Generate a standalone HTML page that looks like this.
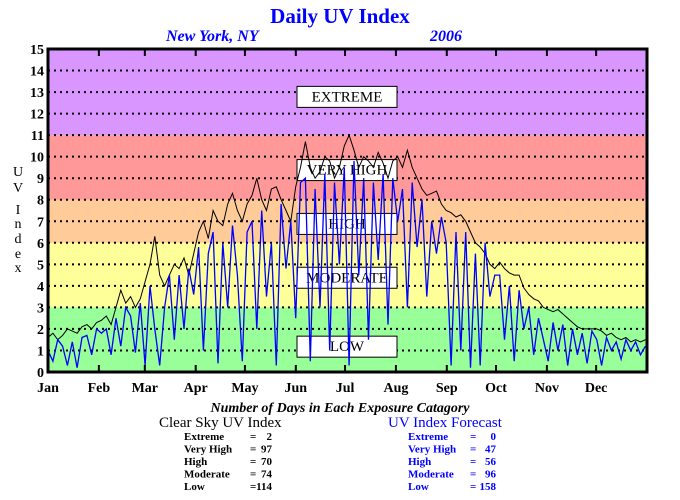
<!DOCTYPE html>
<html><head><meta charset="utf-8"><style>
body{margin:0;background:#fff}
svg{display:block;font-family:"Liberation Serif",serif}
.t{font-weight:bold;font-size:14px}
.r{font-weight:bold;font-size:11px}
</style></head><body>
<svg id="c" width="680" height="500" xmlns="http://www.w3.org/2000/svg">
<text x="340" y="23" text-anchor="middle" font-size="21" font-weight="bold" fill="#0000ff">Daily UV Index</text>
<text x="166" y="41" font-size="16" font-weight="bold" font-style="italic" fill="#0000ff">New York, NY</text>
<text x="430" y="41" font-size="16" font-weight="bold" font-style="italic" fill="#0000ff">2006</text>
<g id="bands"></g><g id="grid"></g><g id="boxes"></g><g id="series"></g><g id="axes"></g>
<g font-size="14" text-anchor="middle">
<text x="18" y="176">U</text><text x="18" y="192">V</text><text x="18" y="214">I</text><text x="18" y="228">n</text><text x="18" y="243">d</text><text x="18" y="258">e</text><text x="18" y="272">x</text></g>
<text x="340" y="412" text-anchor="middle" font-size="14" font-weight="bold" font-style="italic">Number of Days in Each Exposure Catagory</text>
<text x="159" y="427" font-size="15">Clear Sky UV Index</text>
<text x="388" y="427" font-size="15" fill="#0000ff">UV Index Forecast</text>
<g id="counts"></g>
</svg>
<script>
const categories=["Extreme","Very High","High","Moderate","Low"];
const clearSkyCounts=[2,97,70,74,114];
const forecastCounts=[0,47,56,96,158];
const months=["Jan","Feb","Mar","Apr","May","Jun","Jul","Aug","Sep","Oct","Nov","Dec"];
const monthStart=[0,31,59,90,120,151,181,212,243,273,304,334];
const yTicks=[0,1,2,3,4,5,6,7,8,9,10,11,12,13,14,15];
const bandLimits=[0,3,6,8,11,15];
const bandColors=["#99ff99","#ffff99","#ffcc99","#ff9999","#d996ff"];
const bandLabels=["LOW","MODERATE","HIGH","VERY HIGH","EXTREME"];
const bandLabelValues=[1.2,4.4,6.9,9.4,12.8];
const clearSky=[1.6,1.8,1.5,1.7,2.0,1.9,1.8,2.1,2.2,2.0,2.3,
2.4,2.6,2.2,3.0,3.8,3.2,3.5,3.0,3.4,
4.2,5.0,6.3,4.5,4.0,4.5,5.0,4.8,5.3,4.5,5.5,
6.5,7.0,6.2,7.5,7.0,6.8,7.8,8.3,7.5,7.0,
7.8,8.2,9.0,8.0,7.5,8.5,8.6,8.0,7.5,7.0,8.6,
9.5,10.7,9.5,9.0,9.3,10.0,9.8,9.0,9.5,10.5,
11.0,10.3,9.5,10.0,9.8,9.5,10.2,9.7,9.0,9.8,10.0,
9.5,10.3,9.5,9.0,8.5,8.2,8.3,8.4,7.8,7.5,
7.4,7.2,7.3,7.0,6.5,6.0,5.8,5.5,5.0,4.8,
5.1,4.8,4.6,4.5,4.5,3.9,3.6,3.4,3.3,3.0,
2.9,2.8,2.9,2.7,2.5,2.3,2.1,2.0,2.0,2.0,
2.0,1.9,1.7,1.8,1.6,1.5,1.6,1.4,1.5,1.4,1.5];
const forecast=[1.0,0.5,1.5,1.2,0.3,1.4,0.2,1.6,1.7,0.8,2.0,
1.8,2.0,0.8,2.5,1.2,3.0,2.6,0.9,3.2,
0.3,4.0,2.0,0.3,3.0,4.5,1.5,4.5,2.0,4.8,3.6,
5.8,1.0,5.5,6.5,0.4,6.0,3.0,6.8,4.5,0.5,
6.5,7.0,2.0,7.5,3.5,6.0,0.3,7.8,4.8,7.0,2.5,
8.8,9.0,0.5,8.5,3.0,9.2,1.0,8.8,5.0,9.5,
0.3,9.8,4.5,9.0,1.5,8.8,5.2,9.2,2.2,9.0,7.0,
8.5,3.0,8.8,5.8,8.0,3.5,7.0,5.5,7.2,6.0,
0.3,6.5,1.0,6.5,0.2,5.5,0.3,6.0,3.5,4.5,
4.5,1.5,4.0,0.5,3.8,2.0,3.0,0.8,2.5,1.5,
0.5,2.3,1.0,2.2,0.3,2.0,0.8,1.8,0.4,1.9,
1.5,0.3,1.6,1.0,1.4,0.6,1.5,1.0,1.4,0.8,1.2];

const NS="http://www.w3.org/2000/svg";
const L=48,R=647,T=49,B=372;
const xS=d=>L+d*(R-L)/365;
const yS=v=>B-v*(B-T)/15;
function mk(tag,attrs,parent,txt){const e=document.createElementNS(NS,tag);for(const k in attrs)e.setAttribute(k,attrs[k]);if(txt!==undefined)e.textContent=txt;parent.appendChild(e);return e;}
const gB=document.getElementById('bands'),gG=document.getElementById('grid'),gX=document.getElementById('boxes'),gS=document.getElementById('series'),gA=document.getElementById('axes'),gC=document.getElementById('counts');
for(let i=0;i<bandColors.length;i++){
 const r=mk('rect',{x:L,y:yS(bandLimits[i+1]),width:R-L,height:yS(bandLimits[i])-yS(bandLimits[i+1]),fill:bandColors[i]},gB);
 
 
 const bx=mk('rect',{x:297,y:yS(bandLabelValues[i])-10,width:100,height:21,fill:'#fff',stroke:'#000','stroke-width':1},gX);
 
 
 const tx=mk('text',{x:347,y:yS(bandLabelValues[i])+5,'text-anchor':'middle','font-size':15},gX,bandLabels[i]);
 
 
}
yTicks.forEach(v=>{
 if(v>0&&v<15){const g=mk('line',{x1:L,x2:R,y1:yS(v),y2:yS(v),stroke:'#000','stroke-width':2,'stroke-dasharray':'2,4'},gG);
 
 }
 const t=mk('text',{x:44,y:yS(v)+5,'text-anchor':'end',class:'t'},gA,String(v));
 
 
});
function line(arr,color,name,w){
 const step=364/(arr.length-1);
 const pts=arr.map((v,i)=>xS(i*step).toFixed(1)+','+yS(v).toFixed(1)).join(' ');
 const p=mk('polyline',{points:pts,fill:'none',stroke:color,'stroke-width':w},gS);
 
 
}
line(clearSky,'#000','clear-sky-line',1);
line(forecast,'#0000ff','forecast-line',1.3);
const fr=mk('rect',{x:L,y:T,width:R-L,height:B-T,fill:'none',stroke:'#000','stroke-width':3},gA);


months.forEach((m,i)=>{
 const x=xS(monthStart[i]);
 if(i>0){mk('line',{x1:x,x2:x,y1:T,y2:T+7,stroke:'#000','stroke-width':2},gA);mk('line',{x1:x,x2:x,y1:B,y2:B-7,stroke:'#000','stroke-width':2},gA);}
 const t=mk('text',{x:x,y:392,'text-anchor':'middle',class:'t'},gA,m);
 
 
});
categories.forEach((c,i)=>{
 const y=440+i*12.5;
 [[184,250,272,clearSkyCounts,'#000'],[408,470,496,forecastCounts,'#0000ff']].forEach(([x0,xe,xv,arr,col])=>{
  const a=mk('text',{x:x0,y:y,class:'r',fill:col},gC,c);
  
  
  const b=mk('text',{x:xe,y:y,class:'r',fill:col},gC,'=');
  
  
  const v=mk('text',{x:xv,y:y,class:'r',fill:col,'text-anchor':'end'},gC,String(arr[i]));
  
  
 });
});
</script>
</body></html>
